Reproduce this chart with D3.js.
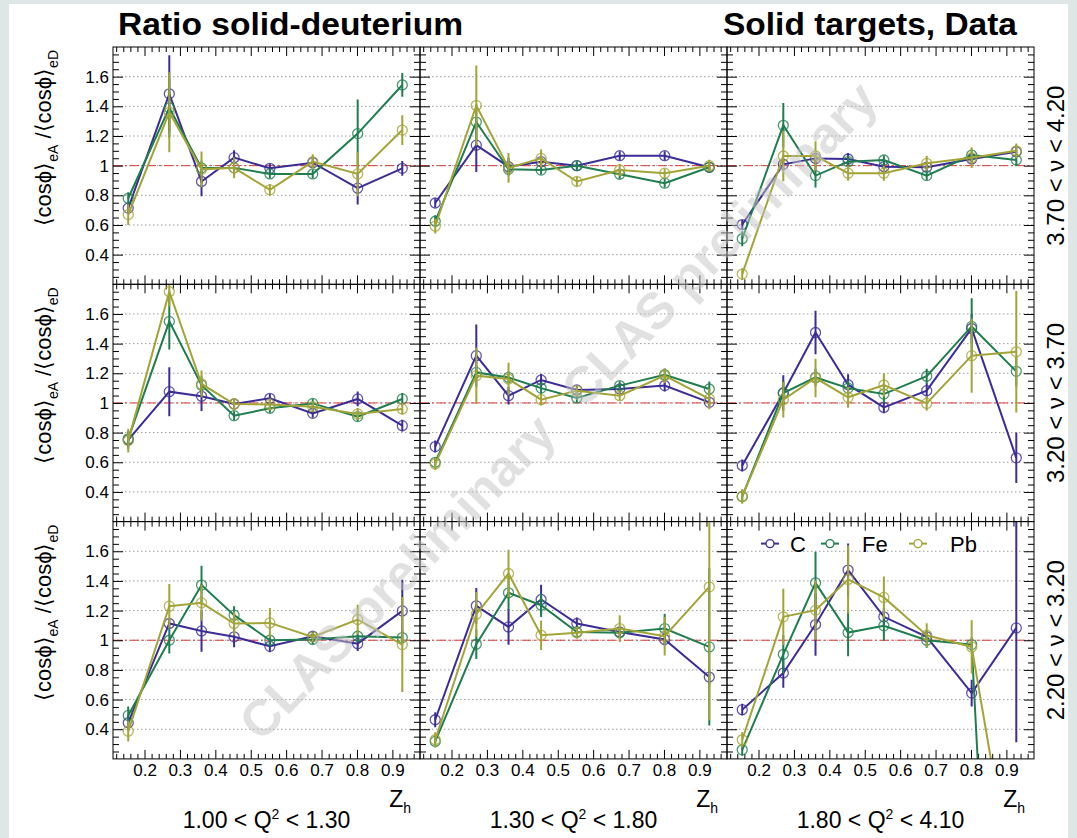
<!DOCTYPE html>
<html>
<head>
<meta charset="utf-8"/>
<script src="https://d3js.org/d3.v7.min.js"></script>
<style>
  body { margin: 0; background: #dfe6e6; }
  svg { display: block; }
  text { font-family: "Liberation Sans", Arial, Helvetica, sans-serif; }
</style>
</head>
<body>
<svg id="chart" width="1077" height="838"></svg>
<script>
// z_h bin centres (same for every panel)
const zh = [0.154, 0.27, 0.361, 0.453, 0.554, 0.675, 0.802, 0.928];

const targets = ["C", "Fe", "Pb"];
const colors = ["#3b2c96", "#1f7d4f", "#a3a437"];

const q2Bins = [["1.00", "1.30"], ["1.30", "1.80"], ["1.80", "4.10"]];
const nuBins = ["3.70 < \u03bd < 4.20", "3.20 < \u03bd < 3.70", "2.20 < \u03bd < 3.20"];

const xTicks = [0.2, 0.3, 0.4, 0.5, 0.6, 0.7, 0.8, 0.9];
const xTickLabels = ["0.2", "0.3", "0.4", "0.5", "0.6", "0.7", "0.8", "0.9"];
const yTicks = [0.4, 0.6, 0.8, 1.0, 1.2, 1.4, 1.6];
const yTickLabels = ["0.4", "0.6", "0.8", "1", "1.2", "1.4", "1.6"];

// ratios, one row per panel: panel = nuRow*3 + q2Col
const cRatio = [
  [0.714, 1.484, 0.893, 1.054, 0.982, 1.020, 0.848, 0.982],
  [0.748, 1.138, 0.993, 1.027, 1.000, 1.067, 1.067, 0.989],
  [0.603, 1.009, 1.049, 1.045, 0.993, 0.990, 1.045, 1.094],
  [0.751, 1.076, 1.045, 0.993, 1.031, 0.930, 1.027, 0.847],
  [0.706, 1.319, 1.049, 1.155, 1.088, 1.094, 1.117, 1.004],
  [0.578, 1.067, 1.475, 1.123, 0.970, 1.083, 1.502, 0.630],
  [0.444, 1.113, 1.063, 1.023, 0.959, 1.027, 0.977, 1.198],
  [0.464, 1.232, 1.090, 1.275, 1.113, 1.056, 1.005, 0.752],
  [0.532, 0.779, 1.106, 1.473, 1.158, 1.023, 0.644, 1.083]
];
const cErr = [
  [0.03, 0.26, 0.10, 0.05, 0.03, 0.03, 0.11, 0.05],
  [0.03, 0.18, 0.06, 0.04, 0.02, 0.03, 0.03, 0.02],
  [0.03, 0.04, 0.04, 0.04, 0.03, 0.03, 0.03, 0.04],
  [0.06, 0.165, 0.10, 0.03, 0.03, 0.03, 0.05, 0.04],
  [0.04, 0.21, 0.06, 0.04, 0.03, 0.03, 0.04, 0.03],
  [0.04, 0.12, 0.147, 0.07, 0.04, 0.05, 0.10, 0.17],
  [0.05, 0.03, 0.14, 0.07, 0.04, 0.03, 0.05, 0.21],
  [0.05, 0.12, 0.12, 0.10, 0.04, 0.03, 0.04, 0.05],
  [0.04, 0.10, 0.21, 0.18, 0.06, 0.04, 0.09, 0.77]
];
const feRatio = [
  [0.780, 1.390, 0.985, 0.985, 0.944, 0.944, 1.216, 1.544],
  [0.625, 1.294, 0.975, 0.970, 1.000, 0.942, 0.882, 0.989],
  [0.507, 1.272, 0.933, 1.027, 1.038, 0.933, 1.071, 1.038],
  [0.758, 1.550, 1.120, 0.914, 0.964, 0.997, 0.908, 1.027],
  [0.600, 1.206, 1.172, 1.100, 1.034, 1.117, 1.190, 1.094],
  [0.369, 1.067, 1.172, 1.100, 1.060, 1.180, 1.516, 1.213],
  [0.493, 1.000, 1.372, 1.169, 1.000, 1.005, 1.027, 1.018],
  [0.318, 0.973, 1.320, 1.236, 1.056, 1.050, 1.079, 0.955],
  [0.261, 0.905, 1.387, 1.052, 1.097, 1.000, 0.971, -4.8]
];
const feErr = [
  [0.04, 0.20, 0.05, 0.05, 0.03, 0.03, 0.23, 0.08],
  [0.04, 0.12, 0.04, 0.03, 0.03, 0.03, 0.03, 0.03],
  [0.05, 0.15, 0.08, 0.04, 0.03, 0.03, 0.04, 0.04],
  [0.05, 0.19, 0.06, 0.03, 0.03, 0.03, 0.03, 0.04],
  [0.03, 0.05, 0.04, 0.04, 0.03, 0.03, 0.04, 0.05],
  [0.04, 0.08, 0.06, 0.05, 0.06, 0.05, 0.19, 0.10],
  [0.06, 0.09, 0.13, 0.06, 0.04, 0.03, 0.04, 0.05],
  [0.04, 0.10, 0.12, 0.08, 0.04, 0.04, 0.10, 0.53],
  [0.04, 0.13, 0.21, 0.16, 0.10, 0.05, 0.05, 1.00]
];
const pbRatio = [
  [0.670, 1.360, 0.975, 0.985, 0.837, 1.027, 0.944, 1.240],
  [0.592, 1.406, 0.985, 1.049, 0.893, 0.971, 0.949, 1.000],
  [0.269, 1.065, 1.065, 0.949, 0.949, 1.016, 1.054, 1.100],
  [0.746, 1.750, 1.128, 0.993, 0.990, 0.975, 0.926, 0.960],
  [0.589, 1.184, 1.161, 1.022, 1.083, 1.049, 1.184, 1.027],
  [0.370, 1.022, 1.168, 1.038, 1.121, 0.997, 1.319, 1.345],
  [0.387, 1.230, 1.252, 1.113, 1.117, 1.023, 1.140, 0.971],
  [0.329, 1.176, 1.450, 1.034, 1.050, 1.079, 1.027, 1.360],
  [0.329, 1.158, 1.203, 1.410, 1.289, 1.034, 0.955, -0.8]
];
const pbErr = [
  [0.07, 0.27, 0.12, 0.07, 0.04, 0.05, 0.15, 0.10],
  [0.05, 0.27, 0.10, 0.06, 0.03, 0.04, 0.03, 0.04],
  [0.04, 0.17, 0.10, 0.05, 0.05, 0.05, 0.07, 0.05],
  [0.08, 0.10, 0.09, 0.04, 0.04, 0.03, 0.04, 0.04],
  [0.04, 0.19, 0.11, 0.04, 0.03, 0.03, 0.05, 0.07],
  [0.05, 0.12, 0.13, 0.07, 0.08, 0.05, 0.25, 0.41],
  [0.07, 0.15, 0.12, 0.08, 0.10, 0.03, 0.10, 0.32],
  [0.05, 0.15, 0.16, 0.10, 0.04, 0.09, 0.13, 0.90],
  [0.05, 0.19, 0.20, 0.23, 0.14, 0.08, 0.18, 0.50]
];

const ratios = [cRatio, feRatio, pbRatio];
const errors = [cErr, feErr, pbErr];

// layout of the 3x3 pad grid
const padLeft = 113, padTop = 47, padW = 307, padH = 237.3;

const svg = d3.select("#chart");
svg.append("rect").attr("x", 9).attr("y", 4).attr("width", 1059).attr("height", 834)
    .attr("fill", "white");

const x = d3.scaleLinear().domain([0.111, 0.978]).range([0, padW]);
const y = d3.scaleLinear().domain([0.2, 1.8]).range([padH, 0]);

const xMinor = d3.range(0.12, 0.97, 0.02).filter(v => Math.abs(v * 10 - Math.round(v * 10)) > 0.01);
const yMinor = d3.range(0.25, 1.8, 0.05).filter(v => Math.abs(v * 5 - Math.round(v * 5)) > 0.01);

const line = d3.line().x(d => x(d[0])).y(d => y(d[1]));

function styleAxis(g) {
  g.select(".domain").remove();
  g.selectAll("line").attr("stroke", "#000").attr("stroke-width", 1);
  g.attr("font-family", null).attr("font-size", 17);
  g.selectAll("text").attr("fill", "#000");
}

for (let row = 0; row < 3; row++) {
  for (let col = 0; col < 3; col++) {
    const p = row * 3 + col;
    const g = svg.append("g")
        .attr("transform", "translate(" + (padLeft + col * padW) + "," + (padTop + row * padH) + ")");

    g.append("clipPath").attr("id", "clip" + p)
      .append("rect").attr("width", padW).attr("height", padH);

    // dotted grid
    g.selectAll(".grid").data(yTicks).join("line")
        .attr("x1", 0).attr("x2", padW)
        .attr("y1", d => y(d)).attr("y2", d => y(d))
        .attr("stroke", "#9a9a9a").attr("stroke-width", 1)
        .attr("stroke-dasharray", "1.5,2.5");

    // reference line at 1
    g.append("line")
        .attr("x1", 0).attr("x2", padW).attr("y1", y(1)).attr("y2", y(1))
        .attr("stroke", "#e03a3a").attr("stroke-width", 1)
        .attr("stroke-dasharray", "9,3,2,3");

    // ticks, pointing inside
    const bottom = d3.axisBottom(x).tickValues(xTicks).tickSizeInner(-9).tickSizeOuter(0).tickPadding(5)
        .tickFormat((d, i) => row === 2 ? xTickLabels[i] : "");
    g.append("g").attr("transform", "translate(0," + padH + ")").call(bottom).call(styleAxis);
    g.append("g").attr("transform", "translate(0," + padH + ")")
        .call(d3.axisBottom(x).tickValues(xMinor).tickSize(-5).tickFormat("")).call(styleAxis);
    g.append("g").call(d3.axisTop(x).tickValues(xTicks).tickSize(-9).tickFormat("")).call(styleAxis);
    g.append("g").call(d3.axisTop(x).tickValues(xMinor).tickSize(-5).tickFormat("")).call(styleAxis);

    const left = d3.axisLeft(y).tickValues(yTicks).tickSizeInner(-10).tickSizeOuter(0).tickPadding(4)
        .tickFormat((d, i) => col === 0 ? yTickLabels[i] : "");
    g.append("g").call(left).call(styleAxis);
    g.append("g").call(d3.axisLeft(y).tickValues(yMinor).tickSize(-6).tickFormat("")).call(styleAxis);
    g.append("g").attr("transform", "translate(" + padW + ",0)")
        .call(d3.axisRight(y).tickValues(yTicks).tickSize(-10).tickFormat("")).call(styleAxis);
    g.append("g").attr("transform", "translate(" + padW + ",0)")
        .call(d3.axisRight(y).tickValues(yMinor).tickSize(-6).tickFormat("")).call(styleAxis);

    // data
    const plot = g.append("g").attr("clip-path", "url(#clip" + p + ")");
    for (let t = 0; t < 3; t++) {
      const vals = ratios[t][p], errs = errors[t][p];
      const pts = zh.map((z, i) => [z, vals[i], errs[i]]);
      const col_ = colors[t];
      plot.selectAll(".err" + t).data(pts).join("line")
          .attr("x1", d => x(d[0])).attr("x2", d => x(d[0]))
          .attr("y1", d => y(d[1] - d[2])).attr("y2", d => y(d[1] + d[2]))
          .attr("stroke", col_).attr("stroke-width", 2);
      plot.append("path").datum(pts).attr("d", line)
          .attr("fill", "none").attr("stroke", col_).attr("stroke-width", 2);
      plot.selectAll(".mk" + t).data(pts).join("circle")
          .attr("cx", d => x(d[0])).attr("cy", d => y(d[1])).attr("r", 5)
          .attr("fill", "none").attr("stroke", col_).attr("stroke-width", 1.3)
          .attr("stroke-opacity", 0.8);
    }

    // frame
    g.append("rect").attr("width", padW).attr("height", padH)
        .attr("fill", "none").attr("stroke", "#000").attr("stroke-width", 1);

    // y title on every row
    if (col === 0) {
      const yt = svg.append("text")
          .attr("transform", "translate(51," + (padTop + row * padH + 3) + ") rotate(-90)")
          .attr("text-anchor", "end").attr("font-size", 22).attr("fill", "#000");
      yt.append("tspan").text("\u27e8cos\u03d5\u27e9");
      yt.append("tspan").attr("dy", 7).attr("font-size", 14).text("eA");
      yt.append("tspan").attr("dy", -7).text(" /\u27e8cos\u03d5\u27e9");
      yt.append("tspan").attr("dy", 7).attr("font-size", 14).text("eD");
    }

    // x title and Q2 bins under the bottom row
    if (row === 2) {
      const right = padLeft + (col + 1) * padW;
      const zt = svg.append("text").attr("x", right - 9).attr("y", 807)
          .attr("text-anchor", "end").attr("font-size", 23);
      zt.append("tspan").text("Z");
      zt.append("tspan").attr("dy", 6).attr("font-size", 14).text("h");

      const qt = svg.append("text").attr("x", padLeft + col * padW + padW / 2).attr("y", 828)
          .attr("text-anchor", "middle").attr("font-size", 23);
      qt.append("tspan").text(q2Bins[col][0] + " < Q");
      qt.append("tspan").attr("dy", -9).attr("font-size", 14).text("2");
      qt.append("tspan").attr("dy", 9).text(" < " + q2Bins[col][1]);
    }

    // nu bins on the right
    if (col === 2) {
      svg.append("text")
          .attr("transform", "translate(1064," + (padTop + row * padH + padH / 2) + ") rotate(-90)")
          .attr("text-anchor", "middle").attr("font-size", 24)
          .text(nuBins[row]);
    }
  }
}

// legend in the lower right pad
const lg = svg.append("g").attr("transform", "translate(" + (padLeft + 2 * padW) + "," + (padTop + 2 * padH + 22) + ")");
const legX = [43, 103, 191];
const legTextX = [63, 135, 223];
targets.forEach((name, i) => {
  lg.append("line").attr("x1", legX[i] - 9).attr("x2", legX[i] + 9).attr("y1", 0).attr("y2", 0)
      .attr("stroke", colors[i]).attr("stroke-width", 2);
  lg.append("circle").attr("cx", legX[i]).attr("cy", 0).attr("r", 4)
      .attr("fill", "white").attr("stroke", colors[i]).attr("stroke-width", 1.3);
  lg.append("text").attr("x", legTextX[i]).attr("y", 8).attr("font-size", 22).text(name);
});

// titles
svg.append("text").attr("x", 118).attr("y", 35).attr("font-size", 31).attr("font-weight", "bold")
    .attr("textLength", 345).attr("lengthAdjust", "spacingAndGlyphs").text("Ratio solid-deuterium");
svg.append("text").attr("x", 723).attr("y", 35).attr("font-size", 31).attr("font-weight", "bold")
    .attr("textLength", 294).attr("lengthAdjust", "spacingAndGlyphs").text("Solid targets, Data");

// watermark
const wm = [[397, 577], [719, 244]];
wm.forEach(c => {
  svg.append("text")
      .attr("transform", "translate(" + c[0] + "," + c[1] + ") rotate(-46)")
      .attr("text-anchor", "middle").attr("dy", "0.35em")
      .attr("font-size", 51).attr("font-weight", "bold")
      .attr("fill", "#c4c4c4").attr("fill-opacity", 0.5)
      .text("CLAS preliminary");
});
</script>
</body>
</html>
